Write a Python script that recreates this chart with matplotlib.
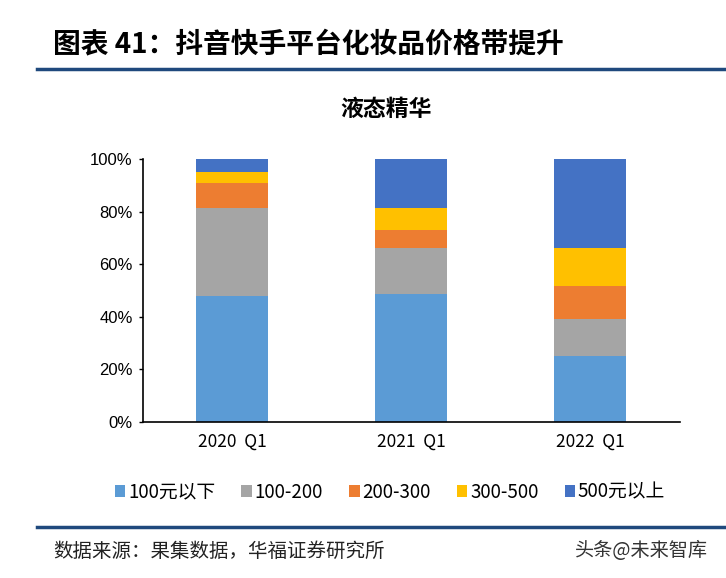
import numpy as np
import matplotlib
matplotlib.use("Agg")
import matplotlib.pyplot as plt
from matplotlib.lines import Line2D

plt.rcParams['font.family'] = ['Noto Sans CJK SC', 'DejaVu Sans']

# 数据
categories = ["2020  Q1", "2021  Q1", "2022  Q1"]
series_names = ["100元以下", "100-200", "200-300", "300-500", "500元以上"]
s_below100 = [48.0, 48.7, 25.0]
s_100_200 = [33.2, 17.4, 14.1]
s_200_300 = [9.7, 6.9, 12.7]
s_300_500 = [4.1, 8.3, 14.3]
s_above500 = [5.0, 18.7, 33.9]
colors = ["#5B9BD5", "#A5A5A5", "#ED7D31", "#FFC000", "#4472C4"]

fig = plt.figure(figsize=(7.26, 5.78), dpi=100)
ax = fig.add_axes([0.1963, 0.2704, 0.7397, 0.4545])

x = np.arange(len(categories))
bottom = np.zeros(len(categories))
bars = []
for vals, c, name in zip([s_below100, s_100_200, s_200_300, s_300_500, s_above500],
                         colors, series_names):
    b = ax.bar(x, vals, 0.4, bottom=bottom, color=c, label=name, linewidth=0)
    bars.append(b)
    bottom += np.array(vals)

ax.set_xlim(-0.5, 2.5)
ax.set_ylim(0, 100)
ax.set_yticks(np.arange(0, 101, 20))
ax.set_yticklabels([f"{v}%" for v in range(0, 101, 20)], fontsize=12,
                   family=['Liberation Sans', 'DejaVu Sans'])
ax.set_xticks(x)
ax.set_xticklabels(categories, fontsize=12.5)
ax.tick_params(axis='x', length=0, pad=8)
ax.tick_params(axis='y', length=3, width=1, direction='out', pad=4)
for s in ["top", "right"]:
    ax.spines[s].set_visible(False)
ax.spines["left"].set_linewidth(1.2)
ax.spines["bottom"].set_linewidth(1.2)

# 标题
fig.text(53 / 726, 1 - 44 / 578, "图表 41：抖音快手平台化妆品价格带提升", fontsize=20,
         fontweight='bold', va='center', ha='left')
fig.add_artist(Line2D([37 / 726, 1], [1 - 69 / 578, 1 - 69 / 578], color="#1F497D", lw=2.5))
fig.text(386 / 726, 1 - 109 / 578, "液态精华", fontsize=16.5, fontweight='bold',
         ha='center', va='center')

# 图例
leg = fig.legend(handles=[b[0] for b in bars], labels=series_names, ncol=5,
                 loc='center', bbox_to_anchor=(390 / 726, 1 - 492 / 578),
                 frameon=False, fontsize=13.5, handlelength=0.55, handleheight=0.55,
                 handletextpad=0.15, columnspacing=1.4)

# 底部
fig.add_artist(Line2D([37 / 726, 1], [1 - 527 / 578, 1 - 527 / 578], color="#1F497D", lw=2.5))
fig.text(53 / 726, 1 - 551 / 578, "数据来源：果集数据，华福证券研究所", fontsize=14,
         ha='left', va='center', color="#222222")
fig.text(708 / 726, 1 - 551 / 578, "头条@未来智库", fontsize=13.8, ha='right',
         va='center', color="#333333")

fig.savefig("out.png", dpi=100)
